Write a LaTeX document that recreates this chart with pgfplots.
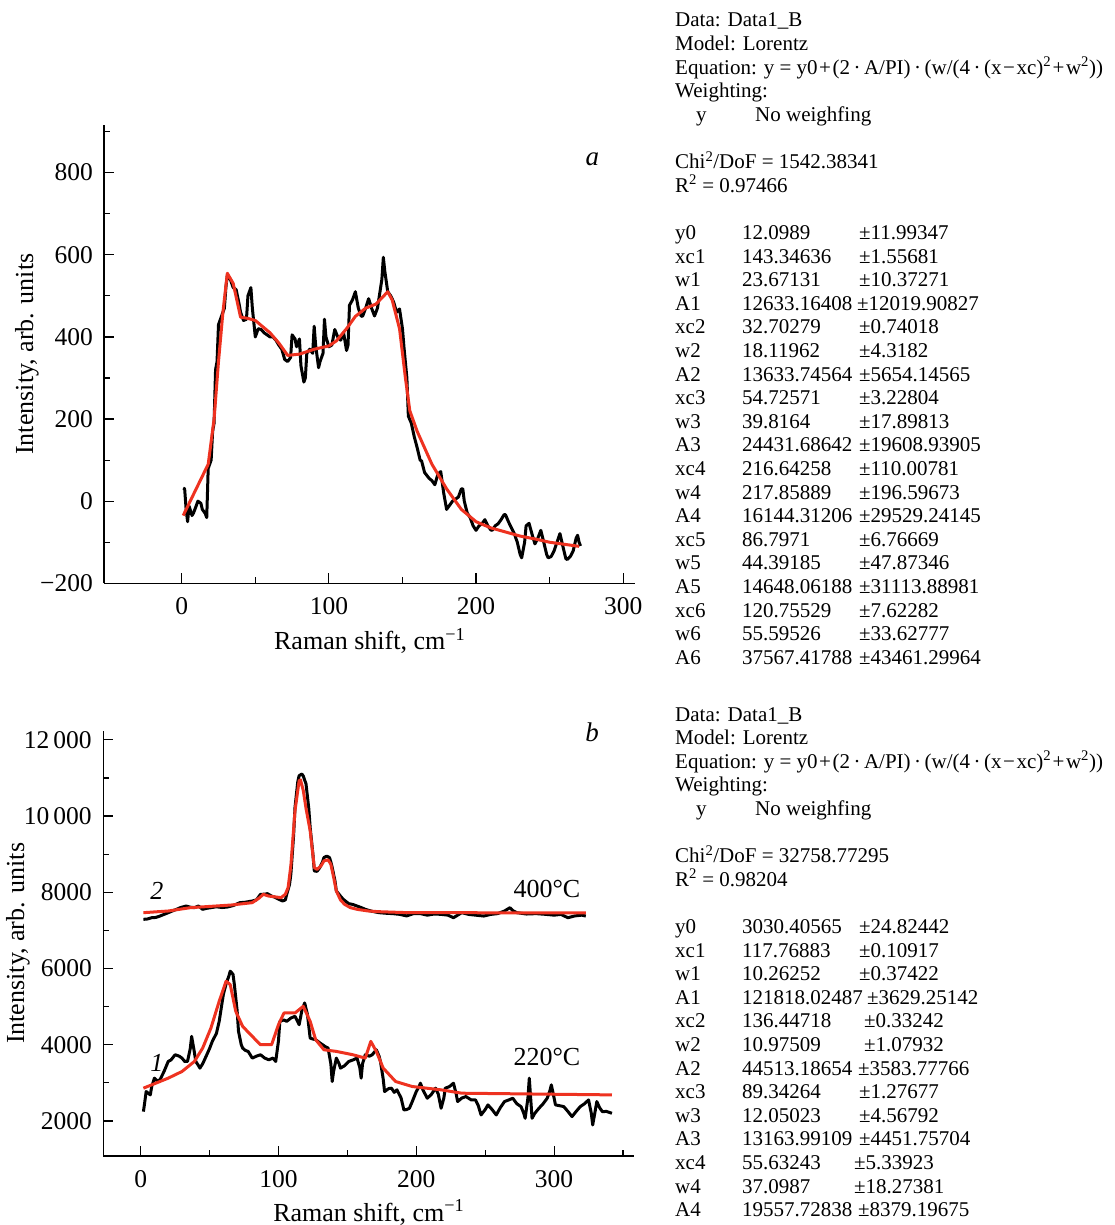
\documentclass[border=0pt]{standalone}
\usepackage{fontspec}
\setmainfont{Liberation Serif}
\usepackage{pgfplots}
\pgfplotsset{compat=1.18}
\definecolor{fitred}{RGB}{238,50,32}
\newcommand{\rt}{\fontsize{21}{23.6}\selectfont}
\newcommand{\TL}[4]{\pgfmathsetmacro{\yy}{-(#1+23.6*#2)}\node[anchor=base west,inner sep=0pt,font=\rt] at (#3pt,\yy pt) {#4};}
\newcommand{\PR}[6]{\pgfmathsetmacro{\yy}{-(#1+23.6*#2)}\pgfmathsetmacro{\xx}{859+#5}%
  \node[anchor=base west,inner sep=0pt,font=\rt] at (675pt,\yy pt) {#3};%
  \node[anchor=base west,inner sep=0pt,font=\rt] at (742pt,\yy pt) {#4};%
  \node[anchor=base west,inner sep=0pt,font=\rt] at (\xx pt,\yy pt) {±#6};}
\newcommand{\eqn}{Equation: y = y0\kern1.5pt+\kern1.5pt(2\,·\,A/PI)\,·\,(w/(4\,·\,(x\kern1.5pt−\kern1.5pt xc)\textsuperscript{2}\kern1.5pt+\kern1.5pt w\textsuperscript{2}))}
\pgfplotsset{
  myaxis/.style={
    scale only axis,
    axis lines=left,
    axis line style={-, line width=1.6pt},
    tick style={black, line width=1.2pt},
    tick align=inside,
    major tick length=10pt,
    minor tick length=6pt,
    scaled ticks=false,
    tick label style={font=\fontsize{25.5}{30}\selectfont},
    yticklabel style={xshift=-8pt},
    xticklabel style={yshift=-11pt},
    label style={font=\fontsize{26}{31}\selectfont},
    /pgf/number format/assume math mode=true,
    clip=false,
    xlabel={Raman shift, cm\textsuperscript{−1}},
    ylabel={Intensity, arb. units},
  },
  dataline/.style={black, line width=3pt, line join=round},
  fitline/.style={fitred, line width=3pt, line join=round},
}
\begin{document}
\begin{tikzpicture}
\path[use as bounding box] (0pt,0pt) rectangle (1114pt,-1225pt);
% ---------------- panel a ----------------
\begin{axis}[myaxis, at={(104.3pt,-583.3pt)}, anchor=south west,
  width=530.7pt, height=458.3pt,
  xmin=-52.6, xmax=308, ymin=-200, ymax=916,
  xtick={0,100,200,300}, minor xtick={50,150,250},
  ytick={-200,0,200,400,600,800}, yticklabels={−200,0,200,400,600,800},
  minor ytick={-100,100,300,500,700,900},
  xtick align=inside, ytick align=inside,
  xlabel style={at={(axis description cs:0.5,-0.1455)}, anchor=base},
  ylabel style={at={(axis description cs:-0.1457,0.5)}, anchor=center},
]
\addplot[dataline] coordinates {
(1,32)(2,30)(3,-20)(4,-50)(5,-12)(7,-35)(8,-29)(10,-10)(11,0)(13,-5)(14,-20)(16,-30)(17,-40)(18,80)(20,100)(21,170)(22,190)(23,320)(24,340)(25,430)(26,440)(28,460)(29,470)(30,520)(31,550)(33,540)(35,520)(37,515)(39,480)(40,460)(42,440)(44,443)(45,500)(47,520)(48,470)(50,400)(52,420)(54,418)(56,410)(58,405)(60,400)(62,400)(64,392)(66,380)(68,370)(70,345)(72,340)(74,350)(75,405)(77,395)(78,376)(80,395)(81,330)(83,290)(84,300)(85,360)(87,370)(89,360)(90,426)(91,380)(93,325)(94,340)(96,360)(97,443)(98,400)(100,376)(102,380)(104,418)(106,400)(108,392)(110,410)(112,367)(113,380)(114,477)(116,490)(118,510)(120,470)(122,450)(123,451)(125,470)(127,493)(129,470)(131,451)(133,470)(134,493)(136,540)(137,594)(138,560)(140,510)(142,500)(144,485)(146,460)(148,468)(150,420)(151,376)(153,300)(154,207)(156,190)(158,157)(160,130)(162,100)(163,98)(165,70)(168,56)(170,50)(172,40)(174,65)(176,72)(178,20)(180,-20)(182,-10)(184,0)(186,5)(188,10)(190,30)(191,30)(192,0)(194,-29)(196,-40)(198,-60)(200,-71)(202,-60)(204,-55)(206,-45)(208,-60)(210,-70)(211,-71)(213,-60)(215,-55)(217,-45)(219,-33)(220,-33)(222,-50)(224,-65)(226,-79)(228,-100)(230,-130)(231,-138)(233,-100)(234,-60)(236,-54)(238,-80)(240,-104)(242,-90)(244,-71)(246,-100)(248,-130)(249,-138)(251,-135)(253,-121)(255,-100)(257,-79)(259,-110)(261,-140)(262,-142)(264,-135)(266,-121)(268,-90)(269,-83)(270,-100)(271,-109)
};
\addplot[fitline] coordinates {
(1,-35)(18,90)(22,200)(25,340)(28,460)(31,555)(35,530)(40,448)(45,445)(50,440)(60,410)(66,385)(72,355)(80,358)(90,370)(100,378)(105,390)(112,420)(118,450)(125,470)(132,480)(140,510)(143,490)(148,420)(152,300)(155,220)(160,170)(170,90)(180,30)(190,-20)(200,-50)(210,-65)(220,-75)(230,-85)(240,-92)(250,-100)(260,-105)(270,-110)
};
\node[font=\fontsize{27}{30}\selectfont\itshape] at (axis cs:279,832) {a};
\end{axis}
% ---------------- panel b ----------------
\begin{axis}[myaxis, at={(103.3pt,-1156pt)}, anchor=south west,
  width=531pt, height=425.3pt,
  xmin=-27.1, xmax=358.2, ymin=1080, ymax=12240,
  xtick={0,100,200,300}, minor xtick={50,150,250,350},
  ytick={2000,4000,6000,8000,10000,12000},
  yticklabels={2000,4000,6000,8000,10\,000,12\,000},
  minor ytick={3000,5000,7000,9000,11000},
  xtick align=inside, ytick align=inside,
  xlabel style={at={(axis description cs:0.5,-0.1528)}, anchor=base},
  ylabel style={at={(axis description cs:-0.1606,0.5)}, anchor=center},
]
\addplot[dataline] coordinates {
(2,7290)(5,7300)(8,7333)(11,7340)(14,7377)(17,7420)(20,7465)(23,7510)(26,7553)(29,7600)(33,7640)(36,7610)(39,7596)(42,7640)(45,7553)(48,7580)(51,7596)(55,7620)(59,7600)(63,7614)(67,7650)(72,7728)(76,7740)(81,7772)(84,7800)(87,7947)(90,7950)(92,7965)(95,7900)(97,7877)(100,7820)(103,7772)(105,7800)(106,7947)(108,8200)(109,8474)(111,9500)(112,10228)(114,10900)(115,11061)(117,11105)(118,11050)(120,10842)(122,10200)(123,9702)(125,9000)(126,8561)(128,8550)(130,8649)(132,8800)(133,8912)(135,8950)(137,8912)(138,8800)(139,8649)(141,8300)(142,8035)(145,7900)(147,7816)(151,7702)(154,7680)(157,7640)(160,7600)(163,7553)(168,7500)(173,7465)(178,7450)(183,7440)(188,7421)(193,7380)(198,7440)(203,7440)(208,7400)(213,7430)(218,7421)(223,7400)(227,7333)(230,7400)(233,7465)(238,7420)(243,7400)(249,7377)(254,7420)(259,7440)(264,7509)(268,7596)(270,7520)(273,7465)(280,7430)(287,7440)(294,7421)(300,7400)(305,7420)(310,7333)(315,7380)(320,7400)(323,7377)
};
\addplot[fitline] coordinates {
(2,7465)(20,7509)(36,7596)(66,7667)(81,7728)(86,7850)(89,7947)(93,7900)(102,7860)(105,7950)(107,8123)(109,8700)(112,10140)(115,10930)(116,10950)(118,10670)(120,10200)(123,9614)(126,8649)(128,8600)(131,8700)(133,8825)(136,8850)(138,8737)(140,8400)(142,8035)(145,7800)(148,7684)(152,7600)(157,7553)(165,7510)(173,7491)(190,7470)(203,7465)(323,7460)
};
\addplot[dataline] coordinates {
(2,2245)(3,2500)(4,2772)(7,2684)(8,2900)(10,3123)(12,3050)(14,3079)(17,3300)(20,3561)(22,3600)(25,3737)(28,3700)(30,3649)(32,3560)(34,3561)(36,3900)(37,4219)(39,3800)(40,3561)(42,3450)(43,3386)(45,3500)(48,3737)(50,3900)(52,4088)(55,4300)(57,4614)(60,5316)(62,5600)(64,5800)(65,5930)(67,5850)(68,5579)(70,4900)(71,4351)(73,4000)(74,3912)(76,3850)(78,3825)(81,3649)(84,3700)(87,3737)(90,3650)(93,3605)(96,3650)(98,3561)(100,4100)(101,4614)(104,4650)(106,4614)(109,4700)(112,4746)(114,4600)(115,4526)(117,4900)(119,5096)(121,4800)(123,4175)(125,4150)(127,4132)(130,4050)(132,4000)(134,3950)(136,3912)(138,3500)(139,3035)(140,3300)(142,3649)(144,3500)(145,3386)(148,3450)(151,3561)(154,3600)(157,3649)(159,3400)(160,3123)(161,3500)(163,3737)(166,3700)(168,3737)(171,3868)(173,3700)(174,3561)(176,3100)(177,2772)(180,2850)(182,2860)(184,2750)(186,2816)(189,2600)(191,2289)(193,2300)(195,2333)(197,2500)(200,2772)(202,2900)(203,2991)(205,2800)(208,2596)(211,2700)(214,2860)(216,2700)(218,2333)(220,2600)(221,2860)(224,2900)(227,2991)(229,2700)(230,2509)(233,2600)(236,2640)(240,2550)(243,2552)(245,2400)(247,2158)(250,2300)(252,2421)(255,2300)(258,2158)(261,2350)(264,2509)(267,2550)(270,2596)(273,2450)(276,2377)(278,2200)(279,2070)(281,2600)(282,3123)(283,2600)(284,2070)(286,2200)(289,2333)(292,2450)(295,2596)(297,2800)(298,2947)(300,2600)(301,2421)(304,2400)(307,2377)(310,2250)(313,2114)(316,2250)(319,2377)(322,2450)(325,2552)(327,2200)(328,1895)(330,2300)(331,2509)(333,2350)(335,2245)(338,2250)(342,2202)
};
\addplot[fitline] coordinates {
(2,2860)(11,2991)(20,3123)(30,3298)(39,3561)(45,3912)(51,4439)(57,5140)(62,5667)(65,5579)(69,4877)(74,4482)(81,4219)(87,4000)(95,4000)(100,4526)(104,4833)(112,4833)(118,5009)(123,4614)(127,4132)(133,3868)(142,3825)(154,3737)(163,3649)(167,4088)(171,3825)(176,3386)(185,3035)(197,2904)(218,2816)(233,2728)(342,2684)
};
\node[font=\fontsize{27}{30}\selectfont\itshape] at (axis cs:327.5,12210) {b};
\node[font=\fontsize{26}{30}\selectfont\itshape] at (axis cs:11.8,8037) {2};
\node[font=\fontsize{26}{30}\selectfont\itshape] at (axis cs:11.8,3522) {1};
\node[font=\fontsize{26}{30}\selectfont] at (axis cs:294.8,8090) {400°C};
\node[font=\fontsize{26}{30}\selectfont] at (axis cs:294.8,3680) {220°C};
\end{axis}
% ---------------- text a ----------------
\TL{27}{0}{675}{Data: Data1\_B}
\TL{27}{1}{675}{Model: Lorentz}
\TL{27}{2}{675}{\eqn}
\TL{27}{3}{675}{Weighting:}
\TL{27}{4}{696}{y}
\TL{27}{4}{755}{No weighfing}
\TL{27}{6}{675}{Chi\textsuperscript{2}/DoF = 1542.38341}
\TL{27}{7}{675}{R\textsuperscript{2} = 0.97466}
\PR{27}{9}{y0}{12.0989}{0}{11.99347}
\PR{27}{10}{xc1}{143.34636}{0}{1.55681}
\PR{27}{11}{w1}{23.67131}{0}{10.37271}
\PR{27}{12}{A1}{12633.16408}{-2}{12019.90827}
\PR{27}{13}{xc2}{32.70279}{0}{0.74018}
\PR{27}{14}{w2}{18.11962}{0}{4.3182}
\PR{27}{15}{A2}{13633.74564}{0}{5654.14565}
\PR{27}{16}{xc3}{54.72571}{0}{3.22804}
\PR{27}{17}{w3}{39.8164}{0}{17.89813}
\PR{27}{18}{A3}{24431.68642}{0}{19608.93905}
\PR{27}{19}{xc4}{216.64258}{0}{110.00781}
\PR{27}{20}{w4}{217.85889}{0}{196.59673}
\PR{27}{21}{A4}{16144.31206}{0}{29529.24145}
\PR{27}{22}{xc5}{86.7971}{0}{6.76669}
\PR{27}{23}{w5}{44.39185}{0}{47.87346}
\PR{27}{24}{A5}{14648.06188}{0}{31113.88981}
\PR{27}{25}{xc6}{120.75529}{0}{7.62282}
\PR{27}{26}{w6}{55.59526}{0}{33.62777}
\PR{27}{27}{A6}{37567.41788}{0}{43461.29964}
% ---------------- text b ----------------
\TL{721}{0}{675}{Data: Data1\_B}
\TL{721}{1}{675}{Model: Lorentz}
\TL{721}{2}{675}{\eqn}
\TL{721}{3}{675}{Weighting:}
\TL{721}{4}{696}{y}
\TL{721}{4}{755}{No weighfing}
\TL{721}{6}{675}{Chi\textsuperscript{2}/DoF = 32758.77295}
\TL{721}{7}{675}{R\textsuperscript{2} = 0.98204}
\PR{721}{9}{y0}{3030.40565}{0}{24.82442}
\PR{721}{10}{xc1}{117.76883}{0}{0.10917}
\PR{721}{11}{w1}{10.26252}{0}{0.37422}
\PR{721}{12}{A1}{121818.02487}{8}{3629.25142}
\PR{721}{13}{xc2}{136.44718}{5}{0.33242}
\PR{721}{14}{w2}{10.97509}{5}{1.07932}
\PR{721}{15}{A2}{44513.18654}{-1}{3583.77766}
\PR{721}{16}{xc3}{89.34264}{0}{1.27677}
\PR{721}{17}{w3}{12.05023}{0}{4.56792}
\PR{721}{18}{A3}{13163.99109}{0}{4451.75704}
\PR{721}{19}{xc4}{55.63243}{-5}{5.33923}
\PR{721}{20}{w4}{37.0987}{-5}{18.27381}
\PR{721}{21}{A4}{19557.72838}{-1}{8379.19675}
\end{tikzpicture}
\end{document}
